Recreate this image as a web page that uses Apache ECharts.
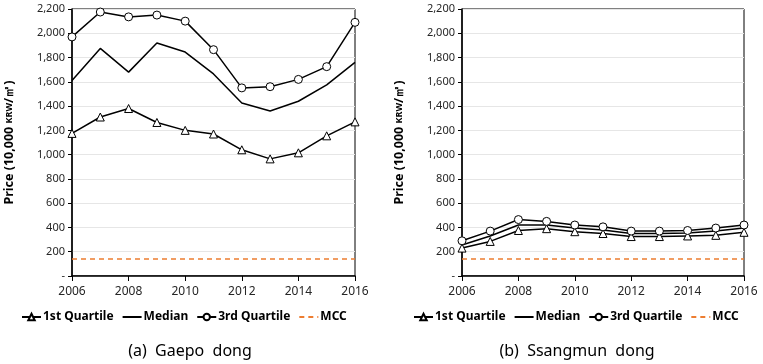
<!DOCTYPE html>
<html>
<head>
<meta charset="utf-8">
<script src="https://cdn.jsdelivr.net/npm/echarts@6/dist/echarts.min.js"></script>
<style>html,body{margin:0;padding:0;background:#fff;}#c{width:763px;height:364px;}</style>
</head>
<body>
<div id="c"></div>
<script>
const years = [2006, 2007, 2008, 2009, 2010, 2011, 2012, 2013, 2014, 2015, 2016];
const gaepoQ1 = [1175, 1310, 1380, 1265, 1200, 1170, 1040, 965, 1015, 1155, 1270];
const gaepoMedian = [1610, 1875, 1680, 1920, 1845, 1665, 1425, 1360, 1440, 1575, 1760];
const gaepoQ3 = [1970, 2175, 2135, 2150, 2100, 1865, 1550, 1560, 1620, 1725, 2090];
const ssangQ1 = [230, 285, 375, 390, 365, 350, 325, 325, 330, 335, 360];
const ssangMedian = [255, 330, 420, 420, 395, 380, 350, 350, 355, 370, 395];
const ssangQ3 = [290, 370, 465, 450, 420, 405, 370, 370, 375, 395, 420];
const mccValues = [140, 140, 140, 140, 140, 140, 140, 140, 140, 140, 140];
const yTicks = [0, 200, 400, 600, 800, 1000, 1200, 1400, 1600, 1800, 2000, 2200];
const seriesNames = ['1st Quartile', 'Median', '3rd Quartile', 'MCC'];
const captions = ['(a)  Gaepo  dong', '(b)  Ssangmun  dong'];

const FONT = '"Noto Sans", "Open Sans", sans-serif';
const pairs = arr => years.map((y, i) => [y, arr[i]]);

function xAx(gi) {
  return {
    type: 'value', gridIndex: gi, min: 2006, max: 2016, interval: 2,
    axisLine: {show: true, lineStyle: {color: '#000', width: 1.5}},
    axisTick: {show: true, length: 5, lineStyle: {color: '#000'}},
    axisLabel: {color: '#262626', fontSize: 12, fontFamily: FONT, margin: 10, formatter: v => String(v)},
    splitLine: {show: false}
  };
}
function yAx(gi) {
  return {
    type: 'value', gridIndex: gi, min: yTicks[0], max: yTicks[yTicks.length - 1], interval: 200,
    axisLine: {show: true, lineStyle: {color: '#000', width: 1.5}},
    axisTick: {show: true, length: 4, lineStyle: {color: '#000'}},
    axisLabel: {color: '#262626', fontSize: 11, fontFamily: FONT, margin: 7,
      formatter: v => v === 0 ? '-' : v.toLocaleString('en-US')},
    splitLine: {show: true, lineStyle: {color: '#e6e6e6', width: 1}},
    name: '{b|Price (10,000 }{s|KRW}{b|/㎡)}',
    nameLocation: 'middle', nameRotate: 90, nameGap: 56,
    nameTextStyle: {rich: {
      b: {fontSize: 12.5, fontWeight: 'bold', fontFamily: FONT, color: '#000'},
      s: {fontSize: 9, fontWeight: 'bold', fontFamily: FONT, color: '#000'}
    }}
  };
}
const clear = 'rgba(0,0,0,0)';
function makeSeries(gi, q1, med, q3) {
  return [
    {name: seriesNames[0], type: 'line', xAxisIndex: gi, yAxisIndex: gi, data: pairs(q1),
      symbol: 'triangle', symbolSize: 8, lineStyle: {color: '#000', width: 1.5},
      itemStyle: {color: '#fff', borderColor: '#000', borderWidth: 1}, z: 3},
    {name: seriesNames[1], type: 'line', xAxisIndex: gi, yAxisIndex: gi, data: pairs(med),
      symbol: 'none', showSymbol: false, lineStyle: {color: '#000', width: 1.5},
      itemStyle: {color: clear, borderColor: clear}, z: 2},
    {name: seriesNames[2], type: 'line', xAxisIndex: gi, yAxisIndex: gi, data: pairs(q3),
      symbol: 'circle', symbolSize: 8, lineStyle: {color: '#000', width: 1.5},
      itemStyle: {color: '#fff', borderColor: '#000', borderWidth: 1}, z: 3},
    {name: seriesNames[3], type: 'line', xAxisIndex: gi, yAxisIndex: gi, data: pairs(mccValues),
      symbol: 'none', showSymbol: false, lineStyle: {color: '#ED7D31', width: 1.5, type: [5, 4]},
      itemStyle: {color: clear, borderColor: clear}, z: 1}
  ];
}
function legend(left) {
  return {
    data: seriesNames, top: 306, left: left, width: 380,
    itemWidth: 19, itemHeight: 8, itemGap: 8,
    textStyle: {fontSize: 12, fontWeight: 'bold', fontFamily: FONT, color: '#000', padding: [0, 0, 0, -3]},
    selectedMode: false
  };
}

const chart = echarts.init(document.getElementById('c'), null, {renderer: 'canvas'});
const option = {
  animation: false,
  backgroundColor: '#fff',
  grid: [
    {left: 72, top: 9, width: 283, height: 267, show: true, borderColor: '#000', borderWidth: 1, backgroundColor: 'transparent'},
    {left: 462, top: 9, width: 282, height: 267, show: true, borderColor: '#000', borderWidth: 1, backgroundColor: 'transparent'}
  ],
  xAxis: [xAx(0), xAx(1)],
  yAxis: [yAx(0), yAx(1)],
  legend: [legend(16), legend(408)],
  title: [
    {text: captions[0], left: 185, top: 338, textAlign: 'center',
      textStyle: {fontSize: 16, fontWeight: 'normal', fontFamily: FONT, color: '#000'}},
    {text: captions[1], left: 572, top: 338, textAlign: 'center',
      textStyle: {fontSize: 16, fontWeight: 'normal', fontFamily: FONT, color: '#000'}}
  ],
  series: [].concat(makeSeries(0, gaepoQ1, gaepoMedian, gaepoQ3), makeSeries(1, ssangQ1, ssangMedian, ssangQ3))
};
chart.setOption(option);
</script>
</body>
</html>
